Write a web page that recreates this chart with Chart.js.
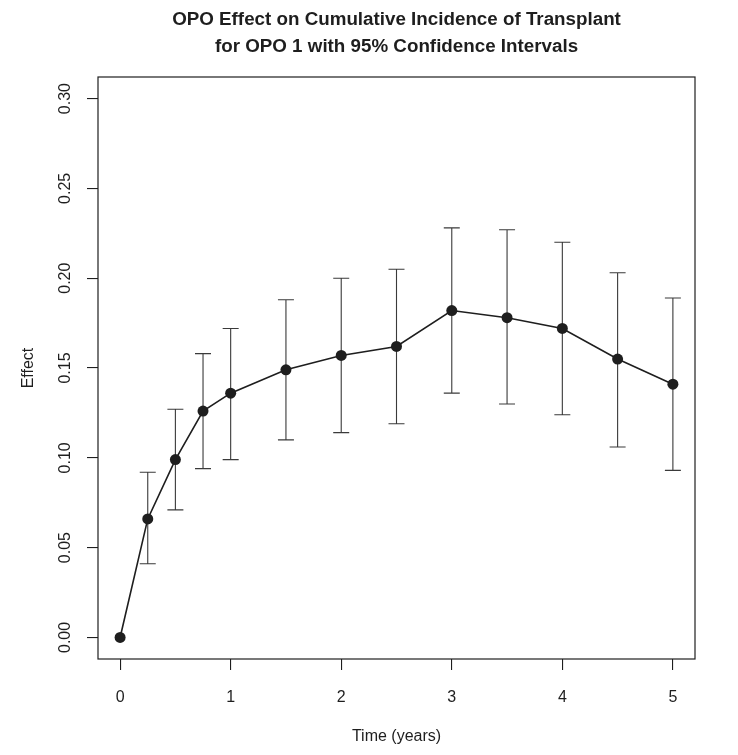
<!DOCTYPE html>
<html>
<head>
<meta charset="utf-8">
<script src="https://cdn.jsdelivr.net/npm/chart.js@4.4.1/dist/chart.umd.min.js"></script>
<style>
  html, body { margin: 0; padding: 0; background: #fff; }
  #wrap { width: 738px; height: 755px; }
</style>
</head>
<body>
<div id="wrap"><canvas id="chart" width="738" height="755"></canvas></div>
<script>
// Data
const timeYears = [0, 0.25, 0.5, 0.75, 1, 1.5, 2, 2.5, 3, 3.5, 4, 4.5, 5];
const effect = [0, 0.066, 0.099, 0.126, 0.136, 0.149, 0.157, 0.162, 0.182, 0.178, 0.172, 0.155, 0.141];
const lowerCI = [null, 0.041, 0.071, 0.094, 0.099, 0.110, 0.114, 0.119, 0.136, 0.130, 0.124, 0.106, 0.093];
const upperCI = [null, 0.092, 0.127, 0.158, 0.172, 0.188, 0.200, 0.205, 0.228, 0.227, 0.220, 0.203, 0.189];
const xTicks = [0, 1, 2, 3, 4, 5];
const yTicks = [0, 0.05, 0.10, 0.15, 0.20, 0.25, 0.30];
const yTickLabels = ["0.00", "0.05", "0.10", "0.15", "0.20", "0.25", "0.30"];
const titleLines = ["OPO Effect on Cumulative Incidence of Transplant", "for OPO 1 with 95% Confidence Intervals"];
const xTitle = "Time (years)";
const yTitle = "Effect";

const FONT = "'Liberation Sans', Arial, Helvetica, sans-serif";
const INK = "#1e1e1e";

// error bars, box, and all R-style text
const rStylePlugin = {
  id: "rStyle",
  beforeDatasetsDraw(chart) {
    const { ctx } = chart;
    const xs = chart.scales.x;
    const ys = chart.scales.y;
    ctx.save();
    ctx.strokeStyle = "#3a3a3a";
    ctx.lineWidth = 1.1;
    timeYears.forEach((t, i) => {
      if (lowerCI[i] === null) return;
      const px = xs.getPixelForValue(t);
      const pLo = ys.getPixelForValue(lowerCI[i]);
      const pHi = ys.getPixelForValue(upperCI[i]);
      ctx.beginPath();
      ctx.moveTo(px, pLo);
      ctx.lineTo(px, pHi);
      ctx.moveTo(px - 8, pLo);
      ctx.lineTo(px + 8, pLo);
      ctx.moveTo(px - 8, pHi);
      ctx.lineTo(px + 8, pHi);
      ctx.stroke();
    });
    ctx.restore();
  },
  afterDraw(chart) {
    const { ctx, chartArea } = chart;
    const xs = chart.scales.x;
    const ys = chart.scales.y;
    const cx = (chartArea.left + chartArea.right) / 2;
    const cy = (chartArea.top + chartArea.bottom) / 2;

    ctx.save();
    // box
    ctx.strokeStyle = INK;
    ctx.lineWidth = 1.2;
    ctx.strokeRect(chartArea.left, chartArea.top, chartArea.right - chartArea.left, chartArea.bottom - chartArea.top);

    ctx.fillStyle = INK;
    ctx.textBaseline = "alphabetic";

    // x tick labels
    ctx.font = "16px " + FONT;
    ctx.textAlign = "center";
    xTicks.forEach((v) => {
      ctx.fillText(String(v), xs.getPixelForValue(v), chartArea.bottom + 43);
    });

    // y tick labels (rotated, reading upward)
    yTicks.forEach((v, i) => {
      ctx.save();
      ctx.translate(chartArea.left - 28, ys.getPixelForValue(v));
      ctx.rotate(-Math.PI / 2);
      ctx.fillText(yTickLabels[i], 0, 0);
      ctx.restore();
    });

    // axis titles
    ctx.fillText(xTitle, cx, chartArea.bottom + 82);
    ctx.save();
    ctx.translate(chartArea.left - 65, cy);
    ctx.rotate(-Math.PI / 2);
    ctx.fillText(yTitle, 0, 0);
    ctx.restore();

    // main title
    ctx.font = "bold 18.8px " + FONT;
    ctx.fillText(titleLines[0], cx, 25);
    ctx.fillText(titleLines[1], cx, 52);
    ctx.restore();
  }
};

const ctx = document.getElementById("chart").getContext("2d");
new Chart(ctx, {
  type: "line",
  data: {
    datasets: [
      {
        label: "Effect",
        data: timeYears.map((t, i) => ({ x: t, y: effect[i] })),
        borderColor: INK,
        backgroundColor: INK,
        borderWidth: 1.6,
        pointRadius: 5.5,
        pointBorderWidth: 0,
        pointBackgroundColor: INK,
        tension: 0,
        fill: false,
      },
    ],
  },
  options: {
    responsive: false,
    animation: false,
    devicePixelRatio: 1,
    layout: { padding: { top: 77, right: 43, left: 0, bottom: 0 } },
    plugins: {
      legend: { display: false },
      title: { display: false },
      tooltip: { enabled: false },
    },
    scales: {
      x: {
        type: "linear",
        min: -0.2,
        max: 5.2,
        afterBuildTicks: (scale) => {
          scale.ticks = xTicks.map((v) => ({ value: v }));
        },
        afterFit: (scale) => {
          scale.height = 96;
        },
        ticks: { display: false },
        border: { display: false },
        grid: {
          display: true,
          drawOnChartArea: false,
          drawTicks: true,
          tickLength: 11,
          color: INK,
          lineWidth: 1.1,
        },
      },
      y: {
        type: "linear",
        min: -0.012,
        max: 0.312,
        afterBuildTicks: (scale) => {
          scale.ticks = yTicks.map((v) => ({ value: v }));
        },
        afterFit: (scale) => {
          scale.width = 98;
        },
        ticks: { display: false },
        border: { display: false },
        grid: {
          display: true,
          drawOnChartArea: false,
          drawTicks: true,
          tickLength: 11,
          color: INK,
          lineWidth: 1.1,
        },
      },
    },
  },
  plugins: [rStylePlugin],
});
</script>
</body>
</html>
